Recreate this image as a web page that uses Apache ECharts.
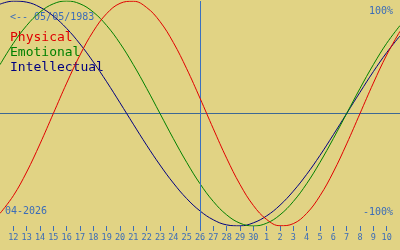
<!DOCTYPE html>
<html>
<head>
<meta charset="utf-8">
<script src="https://cdn.jsdelivr.net/npm/echarts@6/dist/echarts.min.js"></script>
<style>
html,body{margin:0;padding:0;background:#e1d384;}
#c{width:400px;height:250px;}
</style>
</head>
<body>
<div id="c"></div>
<script>
// Days: 11 April 2026 .. 11 May 2026
var days = ["11","12","13","14","15","16","17","18","19","20","21","22","23","24","25","26","27","28","29","30",
            "1","2","3","4","5","6","7","8","9","10","11"];
var todayLabel = "26";
var physical = [-88.8,-73.1,-52.0,-27.0,0,27.0,52.0,73.1,88.8,97.9,99.8,94.2,81.7,63.1,39.8,13.6,-13.6,-39.8,-63.1,-81.7,-94.2,-99.8,-97.9,-88.8,-73.1,-52.0,-27.0,0,27.0,52.0,73.1];
var emotional = [43.4,62.4,78.2,90.1,97.5,100,97.5,90.1,78.2,62.4,43.4,22.3,0,-22.3,-43.4,-62.4,-78.2,-90.1,-97.5,-100,-97.5,-90.1,-78.2,-62.4,-43.4,-22.3,0,22.3,43.4,62.4,78.2];
var intellectual = [97.2,99.9,99.0,94.5,86.6,75.6,61.8,45.8,28.2,9.5,-9.5,-28.2,-45.8,-61.8,-75.6,-86.6,-94.5,-99.0,-99.9,-97.2,-91.0,-81.5,-69.0,-54.1,-37.2,-18.9,0,18.9,37.2,54.1,69.0];
var seriesNames = ["Physical","Emotional","Intellectual"];
var birthText = "<-- 05/05/1983";
var monthText = "04-2026";
var yTop = "100%", yBottom = "-100%";

var textBlue = "#3b6cb8";
var chart = echarts.init(document.getElementById('c'));
var showIdx = function (i) { return i > 0 && i < days.length - 1; };
chart.setOption({
  backgroundColor: "#e1d384",
  animation: false,
  grid: {left: 0, right: 0, top: 1, bottom: 24},
  xAxis: [{
    type: 'category', data: days, boundaryGap: false,
    axisLine: {show: false, onZero: false},
    axisTick: {show: true, length: 5, interval: function(i){return showIdx(i);}, lineStyle: {color: textBlue, width: 1}},
    axisLabel: {interval: function(i){return showIdx(i);}, margin: 7, color: textBlue, fontFamily: 'DejaVu Sans Mono', fontSize: 8.5},
    splitLine: {show: false}
  }, {
    type: 'category', data: days, boundaryGap: false, position: 'bottom',
    axisLine: {show: true, onZero: true, lineStyle: {color: '#3d6894', width: 1}},
    axisTick: {show: false}, axisLabel: {show: false}, splitLine: {show: false}
  }],
  yAxis: {type: 'value', min: -100, max: 100, show: false},
  graphic: [
    {type: 'text', left: 10, top: 12, z: 0, style: {text: birthText, fill: textBlue, font: '10px "DejaVu Sans Mono"'}},
    {type: 'text', left: 10, top: 31, z: 0, style: {text: seriesNames[0], fill: '#e00000', font: '13px "DejaVu Sans Mono"'}},
    {type: 'text', left: 10, top: 46, z: 0, style: {text: seriesNames[1], fill: '#008000', font: '13px "DejaVu Sans Mono"'}},
    {type: 'text', left: 10, top: 61, z: 0, style: {text: seriesNames[2], fill: '#000080', font: '13px "DejaVu Sans Mono"'}},
    {type: 'text', right: 7, top: 6, z: 0, style: {text: yTop, fill: textBlue, font: '10px "DejaVu Sans Mono"'}},
    {type: 'text', right: 7, top: 207, z: 0, style: {text: yBottom, fill: textBlue, font: '10px "DejaVu Sans Mono"'}},
    {type: 'text', left: 5, top: 206, z: 0, style: {text: monthText, fill: textBlue, font: '10px "DejaVu Sans Mono"'}}
  ],
  series: [
    {name: seriesNames[0], type: 'line', data: physical, smooth: 0.4, symbol: 'none', lineStyle: {color: '#e00000', width: 1}, z: 5,
     markLine: {silent: true, symbol: 'none', label: {show: false},
       data: [{xAxis: todayLabel, lineStyle: {color: '#3a70c0', width: 1, type: 'solid'}}]}},
    {name: seriesNames[1], type: 'line', data: emotional, smooth: 0.4, symbol: 'none', lineStyle: {color: '#008000', width: 1}, z: 4},
    {name: seriesNames[2], type: 'line', data: intellectual, smooth: 0.4, symbol: 'none', lineStyle: {color: '#000080', width: 1}, z: 3}
  ]
});
</script>
</body>
</html>
